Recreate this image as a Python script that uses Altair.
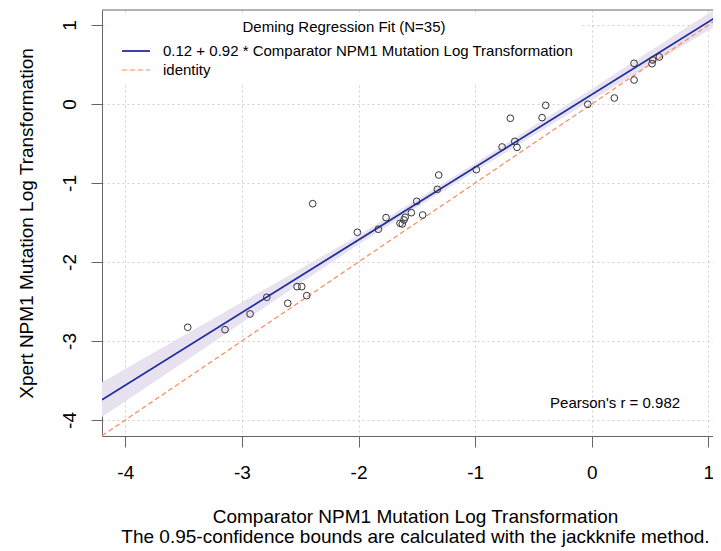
import altair as alt
import pandas as pd

# ---- data ----
x_vals = [-3.465, -3.145, -2.930, -2.787, -2.607, -2.527, -2.487, -2.444, -2.393,
          -2.010, -1.830, -1.764, -1.644, -1.625, -1.610, -1.600, -1.547, -1.501,
          -1.450, -1.324, -1.312, -0.990, -0.769, -0.698, -0.660, -0.641, -0.426,
          -0.395, -0.034, 0.194, 0.363, 0.363, 0.517, 0.523, 0.580]
y_vals = [-2.827, -2.857, -2.658, -2.447, -2.523, -2.312, -2.312, -2.426, -1.262,
          -1.624, -1.586, -1.439, -1.510, -1.519, -1.468, -1.434, -1.376, -1.232,
          -1.405, -1.080, -0.899, -0.831, -0.544, -0.181, -0.473, -0.549, -0.173,
          -0.017, -0.004, 0.076, 0.515, 0.304, 0.510, 0.557, 0.595]

band_x = [-4.2, -3.5, -3.0, -2.5, -2.0, -1.5, -1.0, -0.5, 0.0, 0.5, 1.11]
band_lo = [-3.964, -3.270, -2.770, -2.270, -1.780, -1.310, -0.850, -0.400, 0.050, 0.490, 1.030]
band_hi = [-3.524, -2.930, -2.510, -2.090, -1.660, -1.210, -0.750, -0.280, 0.190, 0.670, 1.250]

intercept = 0.12
slope = 0.92

x_ticks = [-4, -3, -2, -1, 0, 1]
y_ticks = [-4, -3, -2, -1, 0, 1]

x_title = ["Comparator NPM1 Mutation Log Transformation",
           "The 0.95-confidence bounds are calculated with the jackknife method."]
y_title = "Xpert NPM1 Mutation Log Transformation"
legend_title = ["Deming Regression Fit (N=35)"]
legend_labels = ["0.12 + 0.92 * Comparator NPM1 Mutation Log Transformation", "identity"]
pearson_text = ["Pearson's r = 0.982"]

XD = [-4.2, 1.04]
YD = [-4.203, 1.19]
FONT = "Liberation Sans"

W, H = 611, 426

xs = alt.Scale(domain=XD, nice=False, zero=False)
ys = alt.Scale(domain=YD, nice=False, zero=False)

pts = pd.DataFrame({"x": x_vals, "y": y_vals})
band = pd.DataFrame({"x": band_x, "lo": band_lo, "hi": band_hi})
fit = pd.DataFrame({"x": [-4.2, 1.11], "y": [intercept + slope * v for v in [-4.2, 1.11]]})
ident = pd.DataFrame({"x": [-4.2, 1.11], "y": [-4.2, 1.11]})
pear = pd.DataFrame({"t": pearson_text, "x": [0.2], "y": [-3.785]})

minus_fix = "replace(datum.label, '\u2212', '-')"

xaxis = alt.Axis(values=x_ticks, title=x_title, titleFont=FONT, titleFontSize=19,
                 titleFontWeight="normal", titleColor="black", titleX=313, titleY=71,
                 titleAlign="center", titleBaseline="top", titleLineHeight=20,
                 labelFont=FONT, labelFontSize=19, labelColor="black", labelPadding=16,
                 labelExpr=minus_fix, labelFlush=False,
                 tickSize=11, tickColor="#666666", domainColor="#666666",
                 grid=True, gridColor="#cfcfcf", gridDash=[2, 3])
yaxis = alt.Axis(values=y_ticks, title=y_title, titleFont=FONT, titleFontSize=19,
                 titleFontWeight="normal", titleColor="black", titleX=-76, titleY=213,
                 titleAngle=270, titleAlign="center", titleBaseline="middle",
                 labelFont=FONT, labelFontSize=19, labelColor="black", labelPadding=12,
                 labelAngle=270, labelAlign="center", labelBaseline="bottom",
                 labelExpr=minus_fix, labelFlush=False,
                 tickSize=11, tickColor="#666666", domainColor="#666666",
                 grid=True, gridColor="#cfcfcf", gridDash=[2, 3])

X = lambda f: alt.X(f, scale=xs, axis=xaxis)
Y = lambda f: alt.Y(f, scale=ys, axis=yaxis)

band_layer = alt.Chart(band).mark_area(color="#e7e1f0", opacity=1, clip=True).encode(
    x=X("x:Q"), y=Y("lo:Q"), y2="hi:Q",
)
ident_layer = alt.Chart(ident).mark_line(color="#fa8a5c", strokeDash=[5, 3],
                                         strokeWidth=1.2, clip=True).encode(
    x=X("x:Q"), y=Y("y:Q"),
)
fit_layer = alt.Chart(fit).mark_line(color="#1f2e9c", strokeWidth=1.8, clip=True).encode(
    x=X("x:Q"), y=Y("y:Q"),
)
pt_layer = alt.Chart(pts).mark_point(shape="circle", filled=False, color="#333333",
                                     size=45, strokeWidth=1, opacity=1).encode(
    x=X("x:Q"), y=Y("y:Q"),
)
pear_layer = alt.Chart(pear).mark_text(font=FONT, fontSize=15, color="black",
                                       align="center", baseline="middle").encode(
    x=X("x:Q"), y=Y("y:Q"), text="t:N",
)

top_border = alt.Chart(pd.DataFrame({"a": [0]})).mark_rule(color="#666666", strokeWidth=1).encode(
    x=alt.value(0), x2=alt.value(W), y=alt.value(0)
)

# legend (manual, like R's legend())
leg_bg = alt.Chart(pd.DataFrame({"a": [0]})).mark_rect(color="white").encode(
    x=alt.value(6), x2=alt.value(478), y=alt.value(6), y2=alt.value(75)
)
leg_title = alt.Chart(pd.DataFrame({"t": legend_title})).mark_text(
    font=FONT, fontSize=15, color="black", align="center", baseline="middle").encode(
    x=alt.value(242), y=alt.value(17), text="t:N"
)
leg_line1 = alt.Chart(pd.DataFrame({"a": [0]})).mark_rule(color="#1f2e9c", strokeWidth=1.8).encode(
    x=alt.value(20), x2=alt.value(48), y=alt.value(41)
)
leg_line2 = alt.Chart(pd.DataFrame({"a": [0]})).mark_rule(color="#fa8a5c", strokeWidth=1.2,
                                                          strokeDash=[5, 3]).encode(
    x=alt.value(20), x2=alt.value(48), y=alt.value(60)
)
leg_text1 = alt.Chart(pd.DataFrame({"t": [legend_labels[0]]})).mark_text(
    font=FONT, fontSize=15, color="black", align="left", baseline="middle").encode(
    x=alt.value(61), y=alt.value(41), text="t:N"
)
leg_text2 = alt.Chart(pd.DataFrame({"t": [legend_labels[1]]})).mark_text(
    font=FONT, fontSize=15, color="black", align="left", baseline="middle").encode(
    x=alt.value(61), y=alt.value(60), text="t:N"
)

chart = alt.layer(
    band_layer, ident_layer, fit_layer, pt_layer, pear_layer, top_border,
    leg_bg, leg_title, leg_line1, leg_line2, leg_text1, leg_text2
).properties(
    width=W, height=H,
    autosize=alt.AutoSizeParams(type="none"),
    padding={"left": 94, "top": 2, "right": 0, "bottom": 113},
    background="white",
).configure_view(stroke=None)

chart.save("out.html", embed_options={"renderer": "svg", "actions": False})
